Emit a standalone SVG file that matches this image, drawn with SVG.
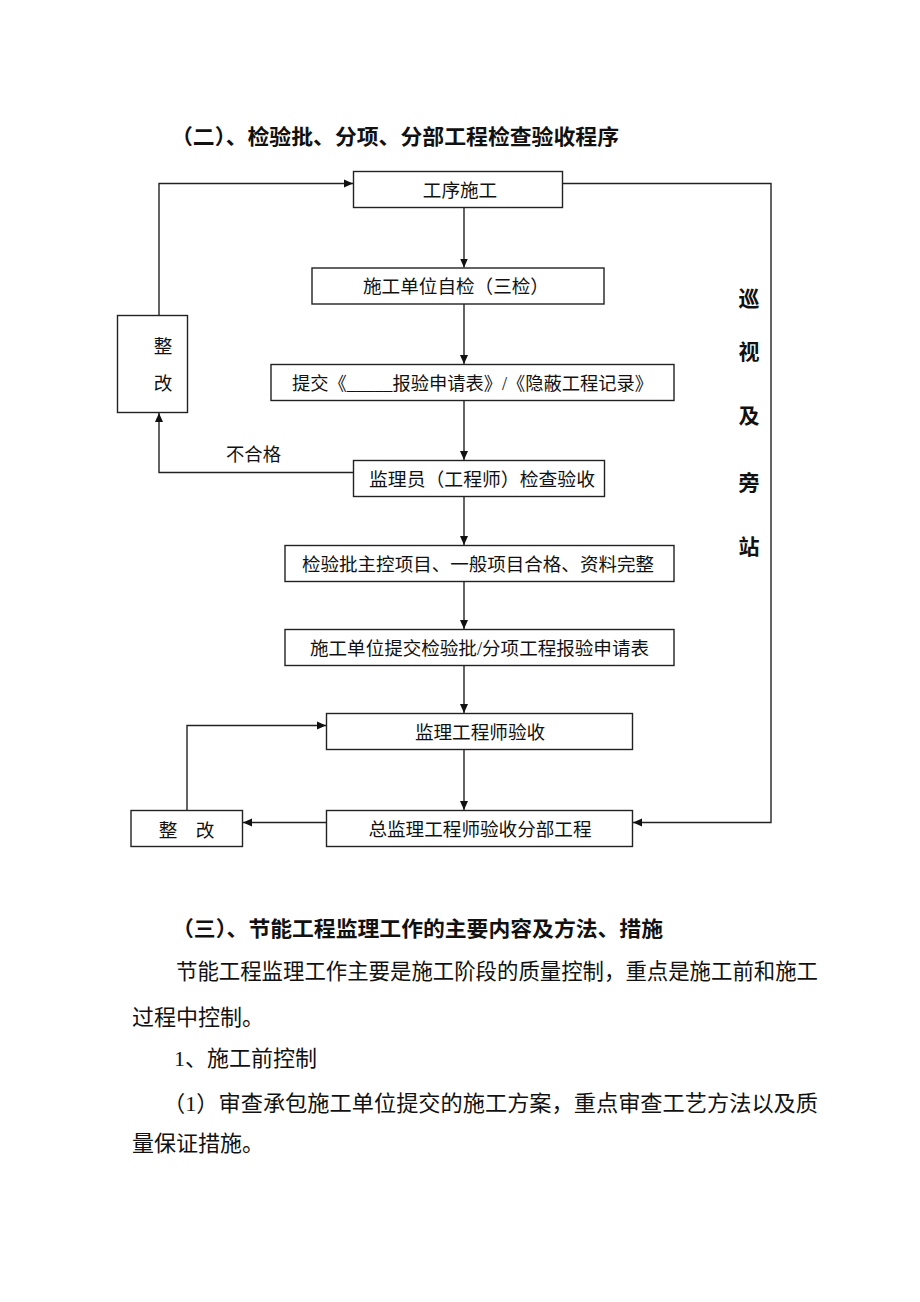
<svg xmlns="http://www.w3.org/2000/svg" width="920" height="1302" viewBox="0 0 920 1302">
<style>
.bg{fill:#fff}
.box{fill:#fff;stroke:#222;stroke-width:1.4}
.ln{fill:none;stroke:#222;stroke-width:1.4}
.t{font-family:"Liberation Serif","Noto Sans CJK SC",serif;font-size:18.6px;fill:#111;text-anchor:middle}
.tl{font-family:"Liberation Serif","Noto Sans CJK SC",serif;font-size:18.6px;fill:#111}
.v{font-family:"Liberation Serif","Noto Sans CJK SC",serif;font-size:21px;font-weight:bold;fill:#111;text-anchor:middle}
.h{font-family:"Liberation Serif","Noto Sans CJK SC",serif;font-size:21px;font-weight:bold;fill:#111}
.p{font-family:"Liberation Serif","Noto Sans CJK SC",serif;font-size:22px;fill:#111}
</style>
<defs>
<marker id="ah" markerWidth="10" markerHeight="10" refX="9" refY="5" orient="auto" markerUnits="userSpaceOnUse">
<path d="M0,1 L9,5 L0,9 Z" fill="#111"/>
</marker>
</defs>
<rect class="bg" x="0" y="0" width="920" height="1302"/>

<text id="title" class="h" x="171" y="144" textLength="448" lengthAdjust="spacingAndGlyphs">（二）、检验批、分项、分部工程检查验收程序</text>

<g id="connectors">
<line class="ln" x1="464" y1="207.5" x2="464" y2="267.5" marker-end="url(#ah)"/>
<line class="ln" x1="464" y1="304" x2="464" y2="364" marker-end="url(#ah)"/>
<line class="ln" x1="464" y1="400.5" x2="464" y2="460" marker-end="url(#ah)"/>
<line class="ln" x1="464" y1="496.5" x2="464" y2="545" marker-end="url(#ah)"/>
<line class="ln" x1="464" y1="581.5" x2="464" y2="629" marker-end="url(#ah)"/>
<line class="ln" x1="464" y1="665.5" x2="464" y2="713" marker-end="url(#ah)"/>
<line class="ln" x1="464" y1="749.5" x2="464" y2="810" marker-end="url(#ah)"/>
<polyline class="ln" points="159,315.5 159,183.5 353,183.5" marker-end="url(#ah)"/>
<polyline class="ln" points="353.5,472.5 159,472.5 159,413" marker-end="url(#ah)"/>
<polyline class="ln" points="562.5,183.5 771,183.5 771,822.5 633,822.5" marker-end="url(#ah)"/>
<line class="ln" x1="326.5" y1="822.5" x2="243" y2="822.5" marker-end="url(#ah)"/>
<polyline class="ln" points="187,810.5 187,725.5 326,725.5" marker-end="url(#ah)"/>
<text id="label-buhege" class="tl" x="226" y="461" textLength="55" lengthAdjust="spacingAndGlyphs">不合格</text>
</g>

<g id="n1"><rect class="box" x="353.5" y="171.5" width="209" height="36"/><text class="t" x="460" y="196.5">工序施工</text></g>
<g id="n2"><rect class="box" x="312" y="268" width="292" height="36"/><text class="t" x="456" y="293">施工单位自检（三检）</text></g>
<g id="n3"><rect class="box" x="271" y="364.5" width="403" height="36"/><text class="tl" x="292" y="389.5" textLength="361" lengthAdjust="spacingAndGlyphs">提交《_____报验申请表》/《隐蔽工程记录》</text></g>
<g id="n4"><rect class="box" x="353.5" y="460.5" width="251" height="36"/><text class="tl" x="369" y="485.5" textLength="226" lengthAdjust="spacingAndGlyphs">监理员（工程师）检查验收</text></g>
<g id="n5"><rect class="box" x="285" y="545.5" width="389" height="36"/><text class="tl" x="302" y="570.5" textLength="352" lengthAdjust="spacingAndGlyphs">检验批主控项目、一般项目合格、资料完整</text></g>
<g id="n6"><rect class="box" x="285" y="629.5" width="389" height="36"/><text class="tl" x="310" y="654.5" textLength="339" lengthAdjust="spacingAndGlyphs">施工单位提交检验批/分项工程报验申请表</text></g>
<g id="n7"><rect class="box" x="326.5" y="713.5" width="306" height="36"/><text class="t" x="480" y="738.5">监理工程师验收</text></g>
<g id="n8"><rect class="box" x="326.5" y="810.5" width="306" height="36"/><text class="t" x="480" y="835.5">总监理工程师验收分部工程</text></g>
<g id="n9"><rect class="box" x="131" y="810.5" width="111.5" height="36"/><text class="t" x="168" y="836.5">整</text><text class="t" x="205" y="836.5">改</text></g>
<g id="n10"><rect class="box" x="117.5" y="315.5" width="70" height="97"/><text class="t" x="163" y="353">整</text><text class="t" x="163" y="390">改</text></g>

<g id="side-label">
<text class="v" x="749" y="306">巡</text>
<text class="v" x="749" y="359">视</text>
<text class="v" x="749" y="423">及</text>
<text class="v" x="749" y="490">旁</text>
<text class="v" x="749" y="554">站</text>
</g>

<g id="body">
<text class="h" x="172" y="936" textLength="491" lengthAdjust="spacingAndGlyphs">（三）、节能工程监理工作的主要内容及方法、措施</text>
<text class="p" x="176" y="979" textLength="642" lengthAdjust="spacingAndGlyphs">节能工程监理工作主要是施工阶段的质量控制，重点是施工前和施工</text>
<text class="p" x="132" y="1025">过程中控制。</text>
<text class="p" x="174" y="1066">1、施工前控制</text>
<text class="p" x="163" y="1111" textLength="655" lengthAdjust="spacingAndGlyphs">（1）审查承包施工单位提交的施工方案，重点审查工艺方法以及质</text>
<text class="p" x="132" y="1151">量保证措施。</text>
</g>
</svg>
